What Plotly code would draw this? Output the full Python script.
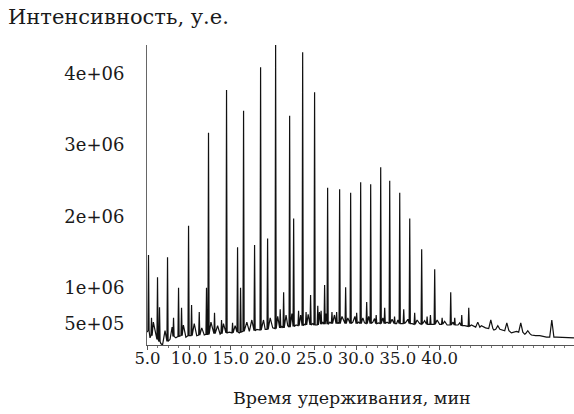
import plotly.graph_objects as go

# Chromatogram peaks: retention time (min), apex and foot intensity (x1e6)
peak_time = [5.12, 5.48, 6.20, 6.44, 7.40, 8.12, 8.72, 9.08, 9.92, 10.28, 11.20, 12.07, 12.31,
             13.03, 13.87, 14.47, 15.19, 15.79, 16.15, 16.51, 17.83, 18.55, 19.39, 20.35, 20.90,
             21.31, 22.03, 22.51, 23.10, 23.59, 24.00, 24.54, 25.02, 25.40, 25.80, 26.22, 26.58,
             27.10, 27.66, 28.02, 28.74, 29.34, 30.06, 30.54, 31.26, 31.74, 32.40, 32.94, 33.42,
             34.02, 34.60, 35.22, 35.70, 36.42, 37.01, 37.85, 38.50, 38.90, 39.41, 40.30, 41.33,
             41.81, 42.65, 43.49, 44.57, 46.13, 46.97, 48.05, 49.72, 50.56, 53.44]
peak_height = [1.46, 0.58, 1.15, 0.73, 1.43, 0.58, 1.00, 0.72, 1.87, 0.76, 0.66, 1.00, 3.17,
               0.65, 0.55, 3.77, 0.51, 1.57, 1.00, 3.48, 1.60, 4.09, 1.69, 4.40, 0.70,
               0.94, 3.41, 1.97, 0.68, 4.30, 0.66, 0.90, 3.74, 0.75, 0.68, 1.04, 2.40,
               0.66, 0.66, 2.38, 1.01, 2.33, 0.65, 2.48, 0.80, 2.45, 0.62, 2.69, 0.72,
               2.50, 0.60, 2.33, 0.70, 1.97, 0.65, 1.54, 0.60, 0.62, 1.26, 0.58, 0.94,
               0.58, 0.62, 0.72, 0.52, 0.55, 0.47, 0.51, 0.51, 0.40, 0.55]
peak_foot = [0.40, 0.33, 0.28, 0.25, 0.25, 0.32, 0.32, 0.33, 0.33, 0.33, 0.34, 0.35, 0.35,
             0.36, 0.36, 0.37, 0.37, 0.38, 0.38, 0.39, 0.40, 0.41, 0.42, 0.43, 0.44,
             0.44, 0.45, 0.46, 0.47, 0.47, 0.48, 0.48, 0.48, 0.48, 0.49, 0.49, 0.49,
             0.50, 0.50, 0.50, 0.50, 0.50, 0.50, 0.50, 0.50, 0.50, 0.50, 0.50, 0.50,
             0.50, 0.50, 0.50, 0.50, 0.50, 0.49, 0.49, 0.49, 0.49, 0.49, 0.49, 0.48,
             0.48, 0.47, 0.46, 0.45, 0.43, 0.42, 0.40, 0.38, 0.36, 0.31]

# Small noise wiggles of the baseline band (time, level x1e6)
noise_time = [5.30, 5.70, 5.95, 6.60, 7.10, 7.70, 7.95, 8.40, 9.30, 9.60, 10.60, 10.90, 11.50,
              11.80, 12.60, 12.90, 13.40, 13.70, 14.10, 14.80, 15.50, 16.00, 16.90, 17.20,
              17.50, 18.10, 18.90, 19.10, 19.70, 20.00, 20.60, 21.10, 21.60, 21.80, 22.30,
              22.80, 23.35, 23.80, 24.25, 24.80, 25.60, 26.00, 26.40, 26.85, 27.40, 27.85,
              28.30, 28.55, 29.00, 29.60, 29.85, 30.30, 30.80, 31.00, 31.50, 32.00, 32.20,
              32.70, 33.20, 33.70, 34.30, 34.85, 35.00, 35.90, 36.20, 36.70, 37.30, 37.60,
              38.20, 38.70, 39.70, 40.00, 40.60, 40.90, 41.60, 42.20, 42.40, 43.00, 43.80,
              44.20, 45.00, 45.50, 46.50, 47.50, 48.60, 49.20, 50.20, 51.00, 52.00, 52.80,
              54.00, 54.60, 55.40]
noise_value = [0.30, 0.52, 0.36, 0.22, 0.40, 0.28, 0.45, 0.30, 0.48, 0.31, 0.50, 0.33, 0.44,
               0.34, 0.52, 0.36, 0.47, 0.35, 0.50, 0.38, 0.47, 0.37, 0.52, 0.39, 0.55, 0.42,
               0.55, 0.42, 0.58, 0.44, 0.60, 0.46, 0.62, 0.47, 0.64, 0.48, 0.62, 0.49, 0.63,
               0.50, 0.66, 0.52, 0.64, 0.52, 0.62, 0.51, 0.60, 0.52, 0.58, 0.52, 0.60, 0.52,
               0.58, 0.51, 0.60, 0.52, 0.57, 0.51, 0.58, 0.52, 0.56, 0.50, 0.55, 0.51, 0.56,
               0.50, 0.55, 0.50, 0.54, 0.49, 0.55, 0.49, 0.53, 0.48, 0.52, 0.48, 0.51, 0.47,
               0.48, 0.45, 0.47, 0.44, 0.41, 0.41, 0.37, 0.39, 0.35, 0.34, 0.33, 0.31, 0.31,
               0.31, 0.30]

# Baseline points between peaks
base_time = [4.95, 6.80, 51.50, 55.00, 56.10]
base_value = [0.38, 0.20, 0.33, 0.30, 0.30]

x_ticks = [5, 10, 15, 20, 25, 30, 35, 40]
x_ticktext = ["5.0", "10.0", "15.0", "20.0", "25.0", "30.0", "35.0", "40.0"]
y_ticks = [0.5e6, 1e6, 2e6, 3e6, 4e6]
y_ticktext = ["5e+05", "1e+06", "2e+06", "3e+06", "4e+06"]

# Build the signal trace from peaks, noise and baseline points
pts = [(t, v) for t, v in zip(base_time, base_value)]
pts += [(t, v) for t, v in zip(noise_time, noise_value)]
for t, h, f in zip(peak_time, peak_height, peak_foot):
    d = 0.07 if t < 44 else 0.25
    pts += [(t - d, f), (t, h), (t + d, f)]
pts.sort(key=lambda p: p[0])
xs = [p[0] for p in pts]
ys = [p[1] * 1e6 for p in pts]

font = "DejaVu Serif"
fig = go.Figure()
fig.add_trace(go.Scatter(x=xs, y=ys, mode="lines",
                         line=dict(color="#111111", width=1.2), hoverinfo="skip"))

fig.update_layout(
    width=574, height=414,
    margin=dict(l=147, r=0, t=45, b=69),
    paper_bgcolor="white", plot_bgcolor="white",
    showlegend=False,
    font=dict(family=font, size=18, color="#1a1a1a"),
    xaxis=dict(range=[4.94, 56.1], tickvals=x_ticks, ticktext=x_ticktext,
               showline=True, linecolor="#555", linewidth=1, showgrid=False, zeroline=False,
               ticks="outside", ticklen=4, tickcolor="#555", tickangle=0,
               minor=dict(dtick=1.25, tick0=5, ticks="outside", ticklen=2, tickcolor="#777"),
               ticklabelstandoff=-6,
               tickfont=dict(family=font, size=16.5, color="#1a1a1a")),
    yaxis=dict(range=[0.20e6, 4.40e6], tickvals=y_ticks, ticktext=y_ticktext,
               showline=True, linecolor="#666", linewidth=1, showgrid=False, zeroline=False,
               ticks="", ticklabelstandoff=18,
               tickfont=dict(family=font, size=18, color="#1a1a1a")),
    annotations=[
        dict(text="Интенсивность, у.е.", xref="paper", yref="paper",
             x=-0.330, y=1.093, xanchor="left", yanchor="middle", showarrow=False,
             font=dict(family=font, size=21, color="#1a1a1a")),
        dict(text="Время удерживания, мин", xref="paper", yref="paper",
             x=0.480, y=-0.177, xanchor="center", yanchor="middle", showarrow=False,
             font=dict(family=font, size=17.5, color="#1a1a1a")),
    ],
)
fig.write_html("out.html")
